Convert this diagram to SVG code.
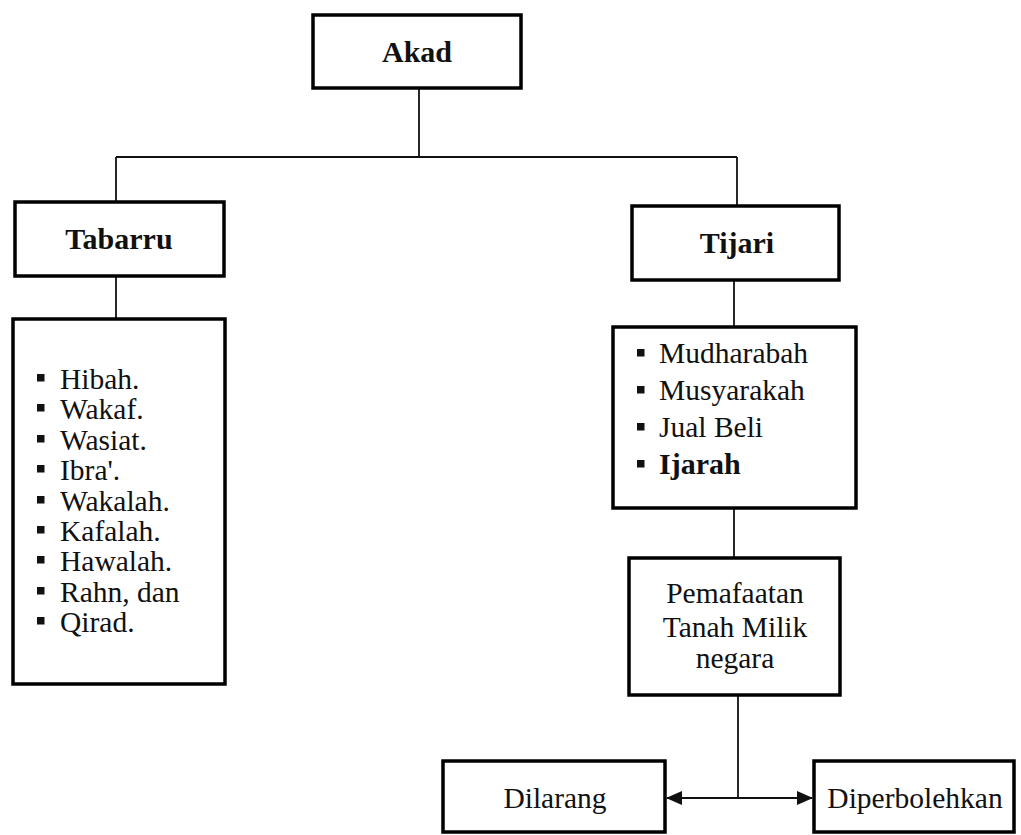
<svg xmlns="http://www.w3.org/2000/svg" width="1021" height="835" viewBox="0 0 1021 835">
<style>
.box{fill:#fff;stroke:#000;stroke-width:3.5}
.ln{fill:none;stroke:#111;stroke-width:1.8}
text{font-family:"Liberation Serif","Times New Roman",serif;font-size:29.5px;fill:#111}
.b{font-weight:bold;font-size:30px}
.c{text-anchor:middle}
.bl{fill:#111}
</style>
<defs>
<marker id="ah" viewBox="0 0 16 14" refX="15" refY="7" markerWidth="16" markerHeight="14" markerUnits="userSpaceOnUse" orient="auto">
<path d="M0,0 L16,7 L0,14 Z" fill="#111"/>
</marker>
</defs>
<g id="connectors">
<path class="ln" d="M419,88 V157 M116,157 H737 M116,157 V201 M737,157 V205"/>
<path class="ln" d="M116,276 V319"/>
<path class="ln" d="M734,280 V326"/>
<path class="ln" d="M734,508 V557"/>
<path class="ln" d="M738,696 V798"/>
<path class="ln" d="M738,798 H667" marker-end="url(#ah)"/>
<path class="ln" d="M738,798 H812" marker-end="url(#ah)"/>
</g>
<g id="akad">
<rect class="box" x="313" y="15" width="208" height="73"/>
<text class="b c" x="417" y="62">Akad</text>
</g>
<g id="tabarru">
<rect class="box" x="15" y="202" width="209" height="74"/>
<text class="b c" x="119" y="249">Tabarru</text>
</g>
<g id="tijari">
<rect class="box" x="632" y="206" width="207" height="74"/>
<text class="b c" x="737" y="253">Tijari</text>
</g>
<g id="tabarru-list">
<rect class="box" x="13" y="319" width="212" height="365"/>
<g class="bl">
<rect x="37" y="374" width="7.5" height="7.5"/>
<rect x="37" y="404" width="7.5" height="7.5"/>
<rect x="37" y="435" width="7.5" height="7.5"/>
<rect x="37" y="465" width="7.5" height="7.5"/>
<rect x="37" y="496" width="7.5" height="7.5"/>
<rect x="37" y="526" width="7.5" height="7.5"/>
<rect x="37" y="556" width="7.5" height="7.5"/>
<rect x="37" y="587" width="7.5" height="7.5"/>
<rect x="37" y="617" width="7.5" height="7.5"/>
</g>
<text x="60" y="389">Hibah.</text>
<text x="60" y="419">Wakaf.</text>
<text x="60" y="450">Wasiat.</text>
<text x="60" y="480">Ibra'.</text>
<text x="60" y="511">Wakalah.</text>
<text x="60" y="541">Kafalah.</text>
<text x="60" y="571">Hawalah.</text>
<text x="60" y="602">Rahn, dan</text>
<text x="60" y="632">Qirad.</text>
</g>
<g id="tijari-list">
<rect class="box" x="613" y="327" width="243" height="181"/>
<g class="bl">
<rect x="637" y="349" width="7.5" height="7.5"/>
<rect x="637" y="386" width="7.5" height="7.5"/>
<rect x="637" y="423" width="7.5" height="7.5"/>
<rect x="637" y="460" width="7.5" height="7.5"/>
</g>
<text x="659" y="363">Mudharabah</text>
<text x="659" y="400">Musyarakah</text>
<text x="659" y="437">Jual Beli</text>
<text class="b" x="659" y="474">Ijarah</text>
</g>
<g id="pemafaatan">
<rect class="box" x="629" y="558" width="211" height="137"/>
<text class="c" x="735" y="603">Pemafaatan</text>
<text class="c" x="735" y="637">Tanah Milik</text>
<text class="c" x="735" y="668">negara</text>
</g>
<g id="dilarang">
<rect class="box" x="443" y="761" width="222" height="71"/>
<text class="c" x="555" y="808">Dilarang</text>
</g>
<g id="diperbolehkan">
<rect class="box" x="814" y="761" width="200" height="71"/>
<text class="c" x="915" y="808">Diperbolehkan</text>
</g>
</svg>
